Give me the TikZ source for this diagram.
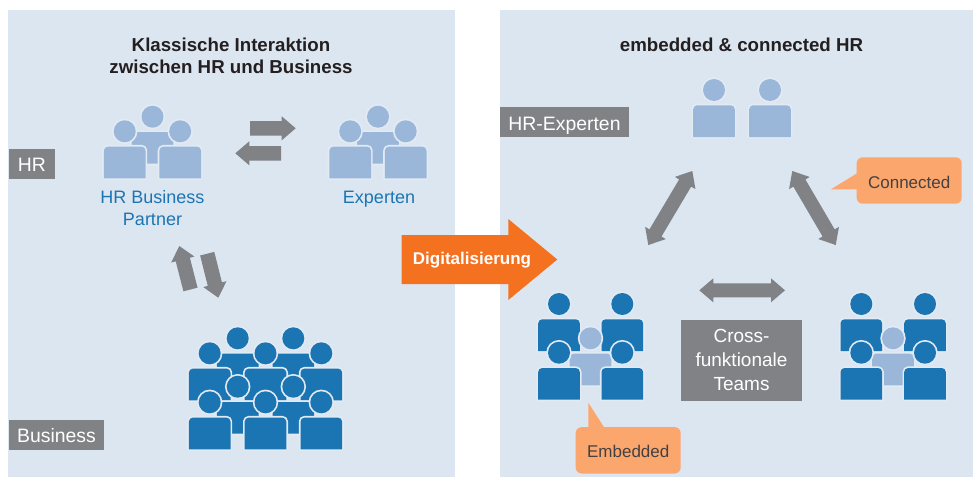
\documentclass[tikz,border=0pt]{standalone}
\usepackage{fontspec}
\setmainfont{Liberation Sans}
\usetikzlibrary{calc}
\definecolor{panel}{HTML}{DCE6F1}
\definecolor{halo}{HTML}{E2EAF4}
\definecolor{dkblue}{HTML}{1B75B3}
\definecolor{ltblue}{HTML}{9AB7DA}
\definecolor{tag}{HTML}{808285}
\definecolor{digi}{HTML}{F47120}
\definecolor{callout}{HTML}{FBA66D}
\definecolor{ink}{HTML}{231F20}
\tikzset{
  panelbox/.style={fill=panel,draw=none},
  tagbox/.style={fill=tag,text=white,inner sep=0pt,font=\fontsize{19.4}{24}\selectfont},
  callbox/.style={fill=callout,text=ink!85,rounded corners=6pt,inner sep=0pt,minimum width=105pt,minimum height=46.4pt,font=\fontsize{17}{18}\selectfont},
  titletext/.style={text=ink,align=center,font=\bfseries\fontsize{18.7}{22}\selectfont},
  grouptext/.style={text=dkblue,align=center,font=\fontsize{18}{22}\selectfont},
  blockarrow/.style={fill=tag,draw=none},
}
% person: head centre x, y, colour
\newcommand{\person}[3]{%
  \path[draw=halo,line width=3.4pt,line join=round]
    (#1-20.8,#2+47) -- (#1-20.8,#2+19.3) arc[start angle=180,end angle=270,radius=4]
    -- (#1+16.8,#2+15.3) arc[start angle=270,end angle=360,radius=4] -- (#1+20.8,#2+47) -- cycle;
  \path[draw=halo,line width=3.4pt] (#1,#2) circle[radius=11];
  \fill[#3] (#1,#2) circle[radius=11];
  \fill[#3]
    (#1-20.8,#2+47) -- (#1-20.8,#2+19.3) arc[start angle=180,end angle=270,radius=4]
    -- (#1+16.8,#2+15.3) arc[start angle=270,end angle=360,radius=4] -- (#1+20.8,#2+47) -- cycle;
}
\newcommand{\twoway}[2]{%
  \coordinate (h1) at ($(#1)!14pt!(#2)$);
  \coordinate (h2) at ($(#2)!14pt!(#1)$);
  \fill[blockarrow] (#1)
    -- ($(h1)!12pt!90:(#2)$) -- ($(h1)!7pt!90:(#2)$)
    -- ($(h2)!7pt!-90:(#1)$) -- ($(h2)!12pt!-90:(#1)$)
    -- (#2)
    -- ($(h2)!12pt!90:(#1)$) -- ($(h2)!7pt!90:(#1)$)
    -- ($(h1)!7pt!-90:(#2)$) -- ($(h1)!12pt!-90:(#2)$) -- cycle;
}
\newcommand{\oneway}[2]{% tail, tip
  \coordinate (h1) at ($(#2)!14pt!(#1)$);
  \fill[blockarrow] (#2)
    -- ($(h1)!12pt!-90:(#2)$) -- ($(h1)!7.3pt!-90:(#2)$)
    -- ($(#1)!7.3pt!-90:(#2)$) -- ($(#1)!7.3pt!90:(#2)$)
    -- ($(h1)!7.3pt!90:(#2)$) -- ($(h1)!12pt!90:(#2)$) -- cycle;
}
\begin{document}
\begin{tikzpicture}[x=1pt,y=-1pt]
\useasboundingbox (0,0) rectangle (973,477);
\fill[white] (0,0) rectangle (973,477);
\fill[panelbox] (8,10) rectangle (455,477);
\fill[panelbox] (500,10) rectangle (973,477);

% titles
\node[titletext] (t1) at (231,56) {Klassische Interaktion\\zwischen HR und Business};
\node[titletext] (t2) at (741.5,45) {embedded \& connected HR};

% left tags
\node[tagbox,minimum width=46pt,minimum height=30pt] (tagHR) at (32,164) {\raisebox{-7pt}[0pt][0pt]{HR}};
\node[tagbox,minimum width=95pt,minimum height=30pt] (tagBiz) at (56.5,435) {\raisebox{-7pt}[0pt][0pt]{Business}};
\node[tagbox,minimum width=129pt,minimum height=30pt] (tagExp) at (564.5,122) {\raisebox{-8pt}[0pt][0pt]{HR-Experten}};

% HR Business Partner group
\person{152.5}{116.7}{ltblue}
\person{124.7}{131.3}{ltblue}
\person{180.2}{131.3}{ltblue}
\node[grouptext] (hrbp) at (152.5,208.5) {HR Business\\Partner};

% Experten group
\person{378}{116.7}{ltblue}
\person{350.2}{131.3}{ltblue}
\person{405.7}{131.3}{ltblue}
\node[grouptext] (exp) at (379,199) {Experten};

% arrows between HR groups
\coordinate (a1) at (250,128.3); \coordinate (a2) at (295.7,128.3);
\coordinate (a3) at (281,153.3); \coordinate (a4) at (235.3,153.3);
\oneway{a1}{a2}
\oneway{a3}{a4}
\coordinate (b1) at (190.5,289.5); \coordinate (b2) at (179.3,246);
\coordinate (b3) at (207.2,253.7); \coordinate (b4) at (218.3,297.7);
\oneway{b1}{b2}
\oneway{b3}{b4}

% Business group
\person{237.7}{338.3}{dkblue}
\person{293.3}{338.3}{dkblue}
\person{209.7}{353.3}{dkblue}
\person{265.5}{353.3}{dkblue}
\person{321.3}{353.3}{dkblue}
\person{237.7}{386.7}{dkblue}
\person{293.3}{386.7}{dkblue}
\person{209.7}{402.3}{dkblue}
\person{265.5}{402.3}{dkblue}
\person{321.3}{402.3}{dkblue}

% Digitalisierung arrow
\fill[digi] (401.7,235) -- (508.3,235) -- (508.3,219) -- (557.3,259.5) -- (508.3,300) -- (508.3,284) -- (401.7,284) -- cycle;
\node[text=white,font=\bfseries\fontsize{17}{18}\selectfont] (digitext) at (472,260.5) {Digitalisierung};

% HR experts
\person{714}{90}{ltblue}
\person{770}{90}{ltblue}

% left team
\person{559}{304}{dkblue}
\person{622.3}{304}{dkblue}
\person{590.5}{338.3}{ltblue}
\person{559}{352.7}{dkblue}
\person{622.3}{352.7}{dkblue}

% right team
\person{861.3}{304}{dkblue}
\person{925}{304}{dkblue}
\person{893}{338.3}{ltblue}
\person{861.3}{352.7}{dkblue}
\person{925}{352.7}{dkblue}

% triangle arrows
\coordinate (c1) at (692.3,171); \coordinate (c2) at (648.3,245);
\coordinate (c3) at (792.3,171); \coordinate (c4) at (835.7,245);
\coordinate (c5) at (699.3,290.3); \coordinate (c6) at (785,290.3);
\twoway{c1}{c2}
\twoway{c3}{c4}
\twoway{c5}{c6}

% cross-functional box
\node[fill=tag,text=white,align=center,inner sep=0pt,minimum width=121pt,minimum height=80.7pt,font=\fontsize{19}{24}\selectfont] (cross) at (741.5,360.3) {Cross-\\funktionale\\Teams};

% callouts
\fill[callout] (857.5,173) -- (831,189.3) -- (857.5,189.3) -- cycle;
\node[callbox] (conn) at (909.2,180.5) {\raisebox{-7.5pt}[0pt][0pt]{Connected}};
\fill[callout] (588.3,402.7) -- (588.3,428) -- (604.5,428) -- cycle;
\node[callbox] (emb) at (628.2,450.3) {\raisebox{-6.7pt}[0pt][0pt]{Embedded}};
\end{tikzpicture}
\end{document}
